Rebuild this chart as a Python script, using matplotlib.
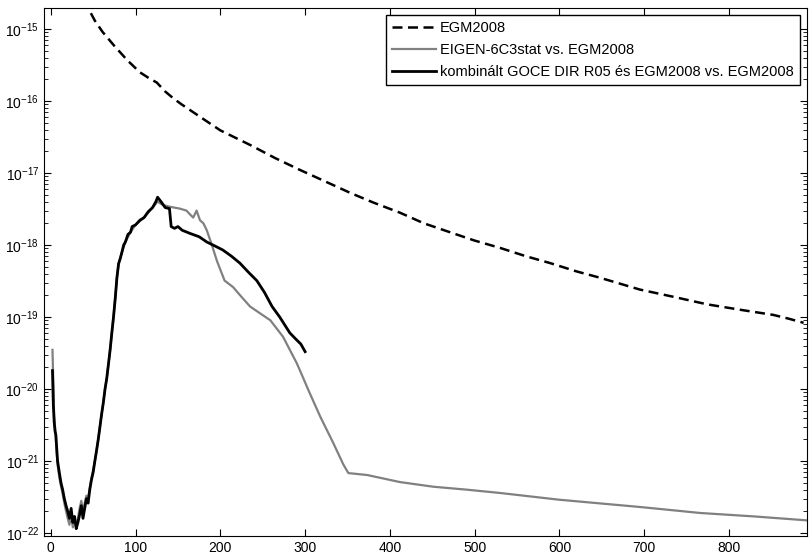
import numpy as np
import matplotlib
matplotlib.use('Agg')
import matplotlib.pyplot as plt
from matplotlib.ticker import LogLocator, NullFormatter

plt.rcParams['font.family'] = ['Liberation Sans', 'DejaVu Sans']
plt.rcParams['mathtext.default'] = 'regular'

# EGM2008 (dashed)
egm_n = [40, 44, 52, 61, 75, 90, 105, 115, 125, 135, 144, 154, 164, 179, 200, 235,
         265, 294, 325, 353, 380, 412, 440, 471, 500, 530, 560, 589, 620, 648,
         695, 735, 774, 815, 852, 870, 888]
egm_val = [2.6e-15, 1.95e-15, 1.3e-15, 9.1e-16, 5.8e-16, 3.7e-16, 2.5e-16, 2.1e-16,
           1.8e-16, 1.35e-16, 1.1e-16, 9.0e-17, 7.5e-17, 5.7e-17, 3.9e-17, 2.45e-17,
           1.6e-17, 1.1e-17, 7.5e-18, 5.3e-18, 3.9e-18, 2.8e-18, 2.0e-18, 1.5e-18,
           1.15e-18, 9.1e-19, 7.0e-19, 5.6e-19, 4.3e-19, 3.5e-19,
           2.4e-19, 1.9e-19, 1.5e-19, 1.25e-19, 1.07e-19, 9.5e-20, 8.3e-20]

# EIGEN-6C3stat vs. EGM2008 (gray)
eigen_n = [2, 3, 4, 5, 6, 7, 8, 10, 12, 14, 16, 18, 20, 22, 24, 26, 28, 30, 32, 34,
           36, 38, 40, 42, 44, 46, 48, 50, 52, 54, 56, 58, 60, 62, 64, 66, 68, 70,
           72, 74, 76, 78, 80, 84, 88, 94, 100, 110, 120, 126, 132, 140, 152, 160,
           165, 168, 172, 176, 180, 184, 190, 196, 205, 215, 225, 235, 248, 259,
           274, 290, 294, 305, 318, 333, 345, 351, 373, 412, 451, 491, 530, 600,
           695, 766, 830, 892]
eigen_val = [3.5e-20, 1.2e-20, 4e-21, 3e-21, 2e-21, 1.3e-21, 9e-22, 6e-22, 4.5e-22,
             3.5e-22, 2.6e-22, 2e-22, 1.6e-22, 1.3e-22, 1.8e-22, 1.2e-22, 1.5e-22,
             1.3e-22, 1.6e-22, 2.2e-22, 2.8e-22, 2e-22, 2.6e-22, 3.3e-22, 3e-22,
             4.3e-22, 5.8e-22, 7.5e-22, 1.0e-21, 1.4e-21, 2e-21, 3e-21, 4.5e-21,
             6.5e-21, 1.0e-20, 1.4e-20, 2.2e-20, 3.5e-20, 6e-20, 1.0e-19, 1.8e-19,
             3.5e-19, 5.5e-19, 8e-19, 1.1e-18, 1.5e-18, 1.9e-18, 2.4e-18, 3.3e-18,
             4.0e-18, 3.6e-18, 3.4e-18, 3.2e-18, 3.0e-18, 2.6e-18, 2.4e-18, 3.0e-18,
             2.2e-18, 2.0e-18, 1.6e-18, 1.0e-18, 6e-19, 3.2e-19, 2.6e-19, 1.9e-19,
             1.4e-19, 1.1e-19, 9e-20, 5.3e-20, 2.3e-20, 1.8e-20, 9e-21, 4.1e-21,
             1.8e-21, 9e-22, 6.8e-22, 6.4e-22, 5.1e-22, 4.4e-22, 4.0e-22, 3.6e-22,
             2.9e-22, 2.3e-22, 1.9e-22, 1.7e-22, 1.5e-22]

# kombinált GOCE DIR R05 és EGM2008 vs. EGM2008 (black)
komb_n = [2, 3, 4, 5, 6, 7, 8, 10, 12, 14, 16, 18, 20, 22, 24, 26, 28, 30, 32, 34,
          36, 38, 40, 42, 44, 46, 48, 50, 52, 54, 56, 58, 60, 62, 64, 66, 68, 70,
          72, 74, 76, 78, 80, 82, 84, 86, 88, 91, 94, 96, 100, 105, 110, 115, 120,
          124, 126, 130, 135, 140, 142, 146, 150, 155, 164, 175, 184, 195, 203,
          213, 223, 233, 243, 252, 261, 270, 282, 290, 295, 300]
komb_val = [1.8e-20, 6e-21, 3.5e-21, 2.6e-21, 2.3e-21, 1.5e-21, 1.0e-21, 7e-22,
            5e-22, 4e-22, 3e-22, 2.4e-22, 2.0e-22, 1.6e-22, 2.2e-22, 1.4e-22,
            1.7e-22, 1.15e-22, 1.4e-22, 1.8e-22, 2.4e-22, 1.6e-22, 2.2e-22, 3e-22,
            2.6e-22, 4e-22, 5.5e-22, 7e-22, 1.0e-21, 1.4e-21, 2e-21, 3e-21, 4.5e-21,
            6.5e-21, 1.0e-20, 1.4e-20, 2.2e-20, 3.5e-20, 6e-20, 1.0e-19, 1.8e-19,
            3.5e-19, 5.5e-19, 6.5e-19, 8e-19, 1.0e-18, 1.1e-18, 1.4e-18, 1.5e-18,
            1.8e-18, 1.9e-18, 2.2e-18, 2.4e-18, 2.9e-18, 3.3e-18, 4.0e-18, 4.6e-18,
            4.0e-18, 3.3e-18, 3.2e-18, 1.8e-18, 1.7e-18, 1.8e-18, 1.6e-18, 1.45e-18,
            1.3e-18, 1.1e-18, 9.5e-19, 8.5e-19, 7e-19, 5.6e-19, 4.2e-19, 3.2e-19,
            2.2e-19, 1.4e-19, 1.0e-19, 6.0e-20, 4.8e-20, 4.2e-20, 3.3e-20]

labels = ['EGM2008', 'EIGEN-6C3stat vs. EGM2008',
          'kombinált GOCE DIR R05 és EGM2008 vs. EGM2008']
x_ticks = [0, 100, 200, 300, 400, 500, 600, 700, 800]
y_exponents = [-22, -21, -20, -19, -18, -17, -16, -15]

fig = plt.figure(figsize=(8.09, 5.57), dpi=100)
ax = fig.add_axes([44 / 809, 21 / 557, 763 / 809, 528 / 557])

ax.semilogy(egm_n, egm_val, color='black', lw=1.8, ls=(0, (4, 2.2)), label=labels[0])
ax.semilogy(eigen_n, eigen_val, color='#808080', lw=1.6, label=labels[1])
ax.semilogy(komb_n, komb_val, color='black', lw=2.0, label=labels[2])

ax.set_xlim(-8, 892)
ax.set_ylim(9.1e-23, 1.95e-15)
ax.set_xticks(x_ticks)
ax.set_yticks([10.0 ** e for e in y_exponents])
ax.set_yticklabels([f'$10^{{{e}}}$' for e in y_exponents])
ax.yaxis.set_minor_locator(LogLocator(base=10, subs=np.arange(2, 10), numticks=20))
ax.yaxis.set_minor_formatter(NullFormatter())
ax.tick_params(which='both', direction='in', top=True, right=True, labelsize=10)
ax.tick_params(which='major', length=5)
ax.tick_params(which='minor', length=3)
for s in ax.spines.values():
    s.set_linewidth(0.8)

ax.legend(loc='upper right', fontsize=10.5, handlelength=3, handletextpad=0.3,
          fancybox=False, edgecolor='black', framealpha=1, borderaxespad=0.5,
          labelspacing=0.55)

fig.savefig('out.png', dpi=100)
